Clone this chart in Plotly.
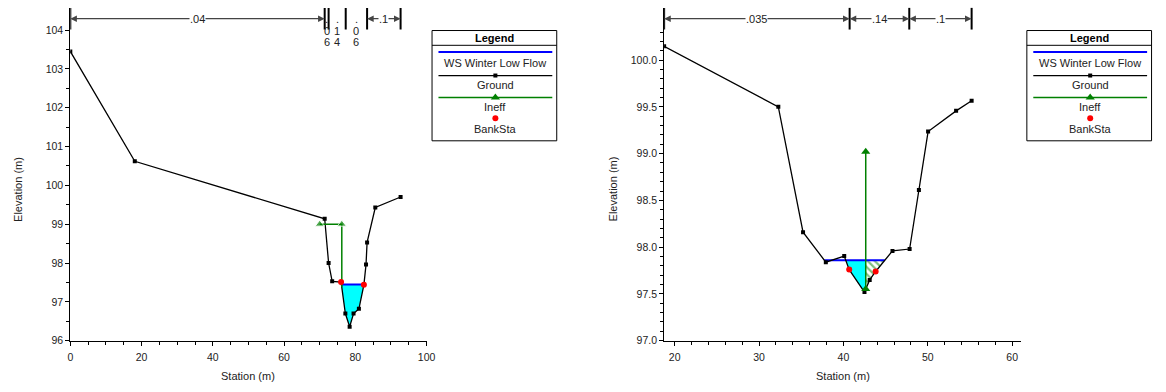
import numpy as np
import plotly.graph_objects as go

W, H = 1166, 392
FONT = "Liberation Sans, Arial, sans-serif"

# ---------------- data: left cross section ----------------
sta_L = [0.0, 18.1, 71.4, 72.5, 73.5, 76.0, 77.2, 78.4, 79.5, 81.0, 82.4, 83.0, 83.3, 85.6, 92.7]
elv_L = [103.45, 100.62, 99.14, 98.00, 97.53, 97.51, 96.70, 96.36, 96.70, 96.82, 97.44, 97.96, 98.53, 99.43, 99.70]
ws_L = 97.45
bank_L = [76.0, 82.4]
ineff_L_sta = [70.0, 76.2]
ineff_L_elev = 99.0
n_break_L = [0.0, 71.4, 72.5, 77.3, 83.3, 92.7]
n_val_L = [".04", ".06", ".14", ".06", ".1"]
xticks_L = [0, 20, 40, 60, 80, 100]
yticks_L = [96, 97, 98, 99, 100, 101, 102, 103, 104]

# ---------------- data: right cross section ----------------
sta_R = [18.745, 32.28, 35.21, 37.91, 40.09, 40.68, 42.49, 43.11, 43.81, 45.81, 47.84, 48.94, 50.03, 53.35, 55.19]
elv_R = [100.147, 99.50, 98.16, 97.84, 97.905, 97.76, 97.52, 97.65, 97.74, 97.96, 97.98, 98.61, 99.236, 99.457, 99.565]
ws_R = 97.86
bank_R = [40.68, 43.81]
ineff_R_sta = 42.64
ineff_R_elev = 99.02
n_break_R = [18.745, 40.73, 47.8, 55.19]
n_val_R = [".035", ".14", ".1"]
xticks_R = [20, 30, 40, 50, 60]
yticks_R = [97.0, 97.5, 98.0, 98.5, 99.0, 99.5, 100.0]

legend_items = ["WS Winter Low Flow", "Ground", "Ineff", "BankSta"]

# ---------------- layout geometry (pixels) ----------------
PLOT_TOP, PLOT_BOT = 8, 346
L_X0, L_X1 = 68, 428
R_X0, R_X1 = 668, 1029
rng_L_x = [0, 100]
rng_L_y = [96, 104.57]
rng_R_x = [18.745, 61.09]
rng_R_y = [97.0, 100.558]


def px_to_paper_y(py):
    return 1 - py / H


def crossings(st, el, ws):
    st = np.asarray(st, float); el = np.asarray(el, float)
    xs = []
    for k in range(len(st) - 1):
        a, b = el[k] - ws, el[k + 1] - ws
        if a * b < 0:
            xs.append(st[k] + (st[k + 1] - st[k]) * a / (a - b))
    return xs


def wet_poly(st, el, ws, xa, xb):
    st = np.asarray(st, float); el = np.asarray(el, float)
    cx = [c for c in crossings(st, el, ws) if xa < c < xb]
    xs = np.unique(np.concatenate([[xa, xb], st[(st > xa) & (st < xb)], cx]))
    gs = np.minimum(np.interp(xs, st, el), ws)
    px = np.concatenate([[xa], xs, [xb, xa]])
    py = np.concatenate([[ws], gs, [ws, ws]])
    return px, py


fig = go.Figure()

def add_section(xa, ya, st, el, ws, bank, wet_split=None, ineff_tr=None):
    cr = crossings(st, el, ws)
    xl, xr = min(cr), max(cr)
    if wet_split is None:
        px, py = wet_poly(st, el, ws, xl, xr)
        fig.add_trace(go.Scatter(x=px, y=py, xaxis=xa, yaxis=ya, mode="lines", fill="toself",
                                 fillcolor="#00FFFF", line=dict(width=0), hoverinfo="skip"))
    else:
        px, py = wet_poly(st, el, ws, xl, wet_split)
        fig.add_trace(go.Scatter(x=px, y=py, xaxis=xa, yaxis=ya, mode="lines", fill="toself",
                                 fillcolor="#00FFFF", line=dict(width=0), hoverinfo="skip"))
        px, py = wet_poly(st, el, ws, wet_split, xr)
        fig.add_trace(go.Scatter(x=px, y=py, xaxis=xa, yaxis=ya, mode="lines", fill="toself",
                                 fillcolor="rgba(255,255,255,0)", line=dict(width=0),
                                 fillpattern=dict(shape="\\", fgcolor="#008000", bgcolor="white",
                                                  size=5, solidity=0.45),
                                 hoverinfo="skip"))
    # WS line
    fig.add_trace(go.Scatter(x=[xl, xr], y=[ws, ws], xaxis=xa, yaxis=ya, mode="lines",
                             line=dict(color="#0000FF", width=2), hoverinfo="skip"))
    # ground
    fig.add_trace(go.Scatter(x=st, y=el, xaxis=xa, yaxis=ya, mode="lines+markers",
                             line=dict(color="black", width=1.3),
                             marker=dict(symbol="square", size=4, color="black"), hoverinfo="skip"))
    if ineff_tr is not None:
        fig.add_trace(ineff_tr)
    # bank stations
    fig.add_trace(go.Scatter(x=bank, y=np.interp(bank, st, el), xaxis=xa, yaxis=ya, mode="markers",
                             marker=dict(symbol="circle", size=6, color="#FF0000"), hoverinfo="skip"))


# ineffective traces
gL = float(np.interp(ineff_L_sta[1], sta_L, elv_L))
ineff_L_tr = go.Scatter(x=[ineff_L_sta[0], ineff_L_sta[1], ineff_L_sta[1]],
                        y=[ineff_L_elev, ineff_L_elev, gL], xaxis="x", yaxis="y",
                        mode="lines+markers", line=dict(color="#008000", width=1.5),
                        marker=dict(symbol="triangle-up", size=[8, 8, 0], color="#008000"),
                        hoverinfo="skip")
gR = float(np.interp(ineff_R_sta, sta_R, elv_R))
ineff_R_tr = go.Scatter(x=[ineff_R_sta, ineff_R_sta], y=[gR, ineff_R_elev], xaxis="x2", yaxis="y2",
                        mode="lines+markers", line=dict(color="#008000", width=1.5),
                        marker=dict(symbol="triangle-up", size=8, color="#008000"), hoverinfo="skip")

add_section("x", "y", sta_L, elv_L, ws_L, bank_L, None, ineff_L_tr)
add_section("x2", "y2", sta_R, elv_R, ws_R, bank_R, ineff_R_sta, ineff_R_tr)

shapes = []
annotations = []

def text_ann(**kw):
    d = dict(showarrow=False, xanchor="center", yanchor="middle")
    d.update(kw)
    annotations.append(d)

# ---------------- Manning's n strip ----------------
ARROW_Y = px_to_paper_y(19)
BAR_Y0, BAR_Y1 = px_to_paper_y(30), px_to_paper_y(PLOT_TOP)


def n_strip(xref, breaks, vals, rng, d0, d1):
    scale = (d1 - d0) / (rng[1] - rng[0])
    for b in breaks:
        shapes.append(dict(type="line", xref=xref, yref="paper", x0=b, x1=b, y0=BAR_Y0, y1=BAR_Y1,
                           line=dict(color="black", width=2)))
    for k, v in enumerate(vals):
        a, b = breaks[k], breaks[k + 1]
        mid = (a + b) / 2
        wpx = (b - a) * scale
        if wpx >= 30:
            for end in (a, b):
                annotations.append(dict(xref=xref, yref="paper", x=end, y=ARROW_Y, axref=xref,
                                        ax=mid, ay=0, text="", showarrow=True, arrowhead=2,
                                        arrowsize=1.1, arrowwidth=1.2, arrowcolor="#444444",
                                        standoff=0, startstandoff=0))
            text_ann(xref=xref, yref="paper", x=mid, y=ARROW_Y, text=v, bgcolor="white", borderpad=0,
                     font=dict(family=FONT, size=11, color="#222"))
        else:
            for j, ch in enumerate(v):
                text_ann(xref=xref, yref="paper", x=mid, y=px_to_paper_y([19.5, 31.5, 43][j]),
                         text=ch, font=dict(family=FONT, size=11, color="#222"))


n_strip("x", n_break_L, n_val_L, rng_L_x, L_X0, L_X1)
n_strip("x2", n_break_R, n_val_R, rng_R_x, R_X0, R_X1)

# ---------------- axis titles ----------------
for cx in [(L_X0 + L_X1) / 2, (R_X0 + R_X1) / 2]:
    text_ann(xref="paper", yref="paper", x=cx / W, y=px_to_paper_y(382), text="Station (m)",
             font=dict(family=FONT, size=11, color="#222"))
for cx in [15, 616.7]:
    text_ann(xref="paper", yref="paper", x=cx / W, y=px_to_paper_y(192), text="Elevation (m)",
             textangle=-90, font=dict(family=FONT, size=11, color="#222"))

# ---------------- custom legend boxes (pixel overlay axis) ----------------
for ox in [0, 601]:
    x0, x1 = 433.5 + ox, 559.5 + ox
    xc = (x0 + x1) / 2 + 1
    shapes.append(dict(type="rect", xref="x3", yref="y3", x0=x0, x1=x1, y0=31, y1=143,
                       line=dict(color="black", width=1), fillcolor="white", layer="below"))
    shapes.append(dict(type="line", xref="x3", yref="y3", x0=x0, x1=x1, y0=46, y1=46,
                       line=dict(color="black", width=1)))
    text_ann(xref="x3", yref="y3", x=xc - 1, y=38.5, text="<b>Legend</b>",
             font=dict(family=FONT, size=11, color="black"))
    lx0, lx1 = 440 + ox, 555 + ox
    specs = [
        (52.7, "#0000FF", 2, None, 0, None),
        (76.7, "black", 1.3, "square", 4, "black"),
        (99.0, "#008000", 1.5, "triangle-up", 8, "#008000"),
        (120.0, None, 0, "circle", 6, "#FF0000"),
    ]
    text_y = [64.3, 86.0, 108.7, 131.0]
    for (ly, lc, lw, sym, ms, mc), name, ty in zip(specs, legend_items, text_y):
        if lc is not None:
            fig.add_trace(go.Scatter(x=[lx0, lx1], y=[ly, ly], xaxis="x3", yaxis="y3", mode="lines",
                                     line=dict(color=lc, width=lw), hoverinfo="skip"))
        if sym is not None:
            fig.add_trace(go.Scatter(x=[xc], y=[ly], xaxis="x3", yaxis="y3", mode="markers",
                                     marker=dict(symbol=sym, size=ms, color=mc), hoverinfo="skip"))
        text_ann(xref="x3", yref="y3", x=xc, y=ty, text=name,
                 font=dict(family=FONT, size=11, color="#222"))

axis_common = dict(showline=True, linecolor="black", linewidth=1, ticks="outside", ticklen=4,
                   tickcolor="black", showgrid=False, zeroline=False, tickmode="array",
                   tickfont=dict(family=FONT, size=10.5, color="#222"), fixedrange=True)

fig.update_layout(
    width=W, height=H, margin=dict(l=0, r=0, t=0, b=0),
    paper_bgcolor="white", plot_bgcolor="rgba(0,0,0,0)", showlegend=False,
    shapes=shapes, annotations=annotations,
    xaxis=dict(domain=[L_X0 / W, L_X1 / W], range=rng_L_x, anchor="y", tickvals=xticks_L,
               ticklabelstandoff=3,
               minor=dict(tickvals=[float(v) for v in np.arange(5, 100, 5)], ticks="outside", ticklen=3,
                          tickcolor="black"), **axis_common),
    yaxis=dict(domain=[1 - PLOT_BOT / H, 1 - PLOT_TOP / H], range=rng_L_y, anchor="x", tickvals=yticks_L,
               minor=dict(tickvals=[float(v) for v in np.arange(96.5, 104.0, 0.5)], ticks="outside",
                          ticklen=3, tickcolor="black"), **axis_common),
    xaxis2=dict(domain=[R_X0 / W, R_X1 / W], range=rng_R_x, anchor="y2", tickvals=xticks_R,
                ticklabelstandoff=3,
                minor=dict(tickvals=[float(v) for v in np.arange(20, 62, 2)], ticks="outside", ticklen=3,
                           tickcolor="black"), **axis_common),
    yaxis2=dict(domain=[1 - PLOT_BOT / H, 1 - PLOT_TOP / H], range=rng_R_y, anchor="x2", tickvals=yticks_R,
                tickformat=".1f",
                minor=dict(tickvals=[round(float(v), 1) for v in np.arange(97.1, 100.35, 0.1)],
                           ticks="outside", ticklen=3, tickcolor="black"), **axis_common),
    xaxis3=dict(domain=[0, 1], range=[0, W], anchor="y3", visible=False, fixedrange=True),
    yaxis3=dict(domain=[0, 1], range=[H, 0], anchor="x3", visible=False, fixedrange=True),
)

fig.write_html("out.html")
